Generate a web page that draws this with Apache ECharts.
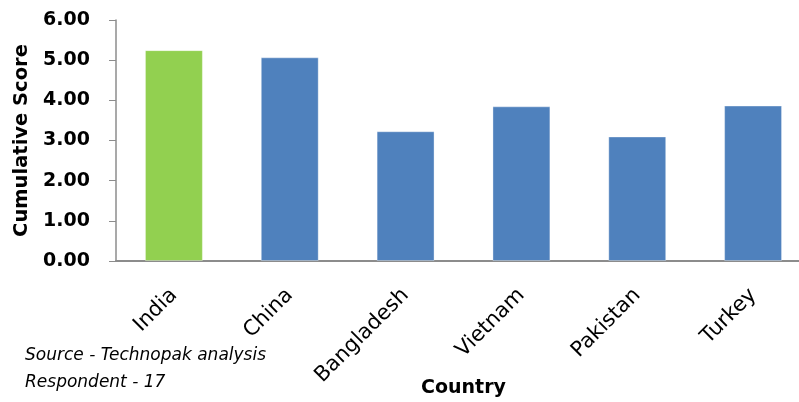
<!DOCTYPE html>
<html><head><meta charset="utf-8">
<script src="https://cdn.jsdelivr.net/npm/echarts@6/dist/echarts.min.js"></script>
<style>html,body{margin:0;padding:0;background:#fff}#c{width:799px;height:402px}</style>
</head><body><div id="c"></div>
<script>
var categories = ['India','China','Bangladesh','Vietnam','Pakistan','Turkey'];
var scores = [5.25, 5.07, 3.23, 3.85, 3.10, 3.87];
var highlight = 'India';
var yTicks = [0,1,2,3,4,5,6];

var chart = echarts.init(document.getElementById('c'), null, {renderer:'canvas'});
chart.setOption({
  animation:false,
  grid:{left:116, top:20, width:695, height:241, containLabel:false, outerBoundsMode:'none'},
  xAxis:{
    type:'category', data:categories,
    axisLine:{lineStyle:{color:'#8c8c8c', width:2}},
    axisTick:{show:false},
    axisLabel:{rotate:45, color:'#000', fontFamily:'DejaVu Sans', fontSize:21, margin:31},
    name:'Country', nameLocation:'middle', nameGap:118, nameMoveOverlap:false,
    nameTextStyle:{fontFamily:'DejaVu Sans', fontWeight:'bold', fontSize:19, color:'#000'}
  },
  yAxis:{
    type:'value', min:yTicks[0], max:yTicks[yTicks.length-1], interval:1,
    axisLine:{show:true, lineStyle:{color:'#8c8c8c', width:1.5}},
    axisTick:{show:true, length:7, lineStyle:{color:'#8c8c8c'}},
    splitLine:{show:false},
    axisLabel:{color:'#000', fontFamily:'DejaVu Sans', fontWeight:'bold', fontSize:19, margin:26,
      formatter:function(v){return v.toFixed(2);}},
    name:'Cumulative Score', nameLocation:'middle', nameGap:84, nameMoveOverlap:false,
    nameTextStyle:{fontFamily:'DejaVu Sans', fontWeight:'bold', fontSize:19.5, color:'#000'}
  },
  series:[{
    type:'bar', barWidth:'50%',
    data:scores.map(function(v,i){return {value:v, itemStyle:{color: categories[i]===highlight ? '#92D050' : '#4F81BD'}};}),
    itemStyle:{borderColor:'rgba(255,255,255,0.35)', borderWidth:1}
  }],
  graphic:[
    {type:'text', left:25, top:347, style:{text:'Source - Technopak analysis', font:'oblique 17px "DejaVu Sans"', fill:'#000'}},
    {type:'text', left:25, top:374, style:{text:'Respondent - 17', font:'oblique 17px "DejaVu Sans"', fill:'#000'}}
  ]
});
</script></body></html>
